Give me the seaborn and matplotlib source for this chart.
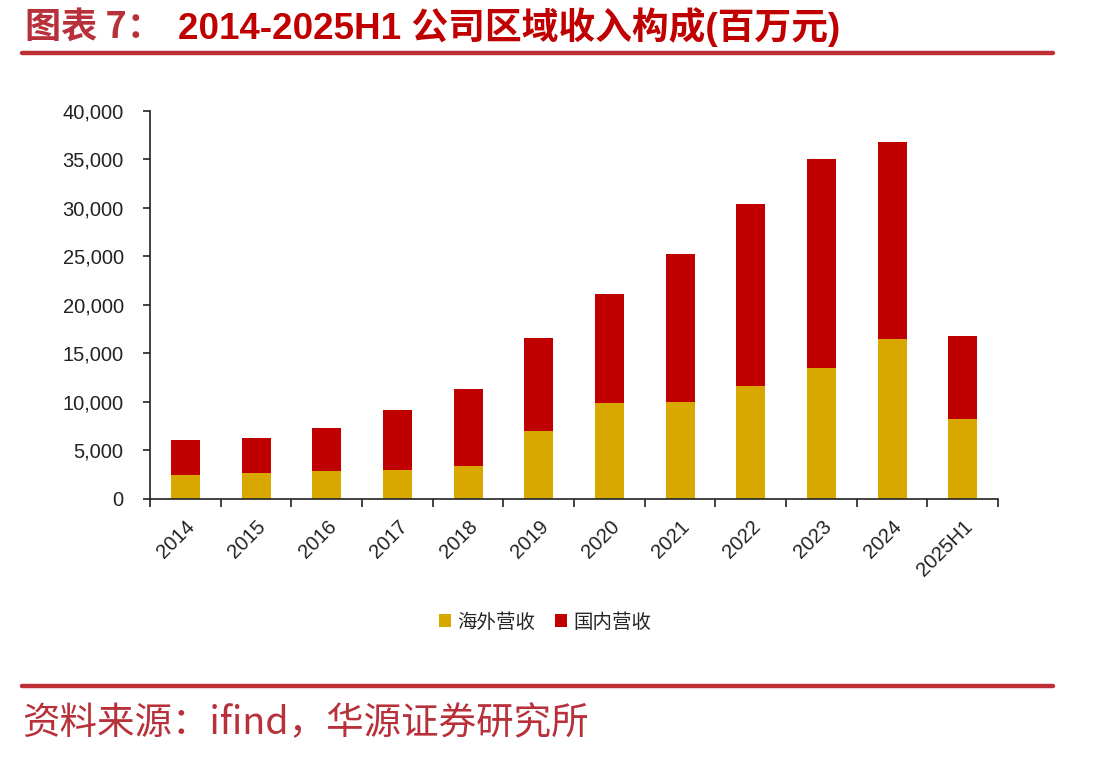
import numpy as np
import pandas as pd
import seaborn as sns
import matplotlib.pyplot as plt
from matplotlib.patches import Patch
from matplotlib.lines import Line2D
from matplotlib.ticker import FuncFormatter

# Data (million yuan)
years = ['2014', '2015', '2016', '2017', '2018', '2019', '2020', '2021',
         '2022', '2023', '2024', '2025H1']
overseas = [2500, 2680, 2850, 2950, 3430, 7040, 9900, 10000, 11680, 13460, 16490, 8250]
domestic = [3600, 3610, 4470, 6180, 7910, 9560, 11200, 15260, 18690, 21540, 20310, 8510]

df = pd.DataFrame({'year': years, 'overseas': overseas, 'domestic': domestic})
df['total'] = df['overseas'] + df['domestic']

sns.set_style('white')
plt.rcParams['font.family'] = ['Liberation Sans', 'Noto Sans CJK SC', 'DejaVu Sans']

c_yellow = '#D9A800'
c_red = '#C00000'
c_line = '#BE2F35'

fig = plt.figure(figsize=(11.13, 7.59), dpi=100)
ax = fig.add_axes([0.1348, 0.3426, 0.762, 0.5112])

# stacked bars: total in red, overseas in yellow drawn over it
sns.barplot(data=df, x='year', y='total', color=c_red, width=0.41,
            saturation=1, linewidth=0, ax=ax)
sns.barplot(data=df, x='year', y='overseas', color=c_yellow, width=0.41,
            saturation=1, linewidth=0, ax=ax)

ax.set_xlim(-0.5, len(years) - 0.5)
ax.set_ylim(0, 40000)
ax.set_yticks(np.arange(0, 40001, 5000))
ax.yaxis.set_major_formatter(FuncFormatter(lambda v, p: f'{int(v):,}'))
ax.set_xlabel('')
ax.set_ylabel('')

for s in ['top', 'right']:
    ax.spines[s].set_visible(False)
for s in ['left', 'bottom']:
    ax.spines[s].set_color('#222222')
    ax.spines[s].set_linewidth(1.2)

ax.tick_params(axis='y', direction='out', length=5, width=1.2, color='#222222',
               labelsize=14.5, pad=14, left=True, labelcolor='#222222')
# category labels (no tick) + boundary ticks
ax.set_xticks(range(len(years)))
ax.set_xticklabels(years, rotation=45, ha='right', rotation_mode='anchor')
ax.tick_params(axis='x', which='major', length=0, labelsize=14.5, pad=13,
               labelcolor='#222222')
ax.set_xticks(np.arange(-0.5, len(years), 1), minor=True)
ax.tick_params(axis='x', which='minor', direction='out', length=6, width=1.2,
               color='#222222', bottom=True)

handles = [Patch(facecolor=c_yellow, edgecolor='none'),
           Patch(facecolor=c_red, edgecolor='none')]
fig.legend(handles, ['海外营收', '国内营收'], loc='center',
           bbox_to_anchor=(545 / 1113, 1 - 622 / 759), ncol=2, frameon=False,
           handlelength=0.65, handleheight=0.65,
           handletextpad=0.3, columnspacing=1.0,
           prop={'family': ['Noto Sans CJK SC'], 'size': 14})

# title
fig.text(25 / 1113, 1 - 27 / 759, '图表 7：', fontsize=26, color='#B8303A',
         fontweight='bold', va='center', ha='left',
         family=['Noto Sans CJK SC'])
fig.text(178 / 1113, 1 - 27 / 759, '2014-2025H1 公司区域收入构成(百万元)',
         fontsize=26.5, color=c_red, fontweight='bold', va='center', ha='left',
         family=['Liberation Sans', 'Noto Sans CJK SC'])

# red rules
fig.add_artist(Line2D([22 / 1113, 1053 / 1113], [1 - 53 / 759, 1 - 53 / 759],
                      color=c_line, linewidth=3.2))
fig.add_artist(Line2D([22 / 1113, 1053 / 1113], [1 - 686 / 759, 1 - 686 / 759],
                      color=c_line, linewidth=3.2))

# source
fig.text(22 / 1113, 1 - 724 / 759, '资料来源：ifind，华源证券研究所', fontsize=27,
         color='#B8303A', va='center', ha='left',
         family=['Noto Sans CJK SC'])

fig.savefig('out.png', dpi=100)
